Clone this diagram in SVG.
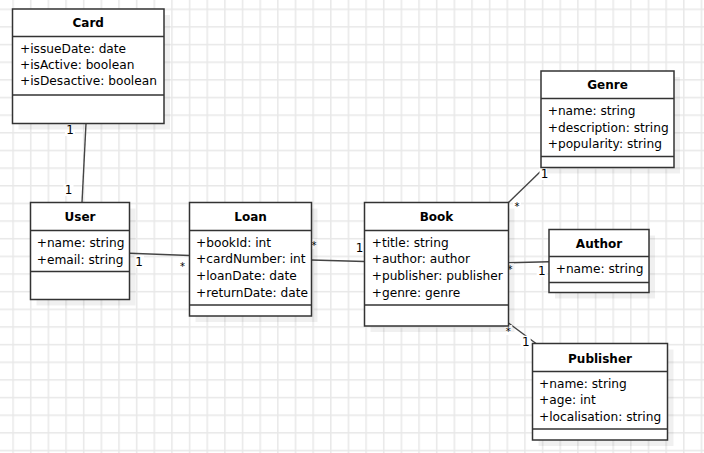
<svg xmlns="http://www.w3.org/2000/svg" width="704" height="453" viewBox="0 0 704 453">
<defs>
<pattern id="grid" x="12.3" y="8.5" width="17.65" height="17.65" patternUnits="userSpaceOnUse">
<path d="M0.8 0 V17.65 M0 0.8 H17.65" fill="none" stroke="#e8e8e8" stroke-width="1.5"/>
</pattern>
</defs>
<style>
.box{fill:#fff;stroke:#333;stroke-width:1.5}
.shadow{fill:#000;fill-opacity:0.06}
.sep{stroke:#333;stroke-width:1.5}
.title{font-family:"DejaVu Sans",sans-serif;font-size:12px;font-weight:bold;text-anchor:middle;fill:#000}
.attr{font-family:"DejaVu Sans",sans-serif;font-size:12.2px;fill:#000}
.conn line{stroke:#444;stroke-width:1.4}
.lbl{font-family:"DejaVu Sans",sans-serif;font-size:12px;fill:#000;text-anchor:middle}
.star{font-family:"DejaVu Sans",sans-serif;font-size:10px;fill:#000;text-anchor:middle}
.lb{fill:#fff}
</style>
<rect width="704" height="453" fill="#fff"/>
<rect width="704" height="453" fill="url(#grid)"/>

<g id="connectors" class="conn">
<line x1="86" y1="123.5" x2="82" y2="202.5"/>
<line x1="129.5" y1="253.3" x2="189.5" y2="255.5"/>
<line x1="311.5" y1="260" x2="364.5" y2="261.5"/>
<line x1="508.5" y1="202.5" x2="542" y2="170"/>
<line x1="508.5" y1="262.7" x2="549" y2="261.7"/>
<line x1="508.5" y1="323" x2="536" y2="343.5"/>
<g id="labels">
<rect class="lb" x="65" y="124" width="10" height="12"/><text class="lbl" x="70" y="134.4">1</text>
<rect class="lb" x="63.5" y="184" width="10" height="12"/><text class="lbl" x="68.5" y="194.4">1</text>
<rect class="lb" x="134" y="255.5" width="10" height="12"/><text class="lbl" x="139" y="265.9">1</text>
<rect class="lb" x="178.5" y="260" width="8" height="10"/><text class="star" x="182.5" y="270">*</text>
<rect class="lb" x="310" y="239" width="8" height="10"/><text class="star" x="314" y="249">*</text>
<rect class="lb" x="354.5" y="241.5" width="10" height="12"/><text class="lbl" x="359.5" y="251.9">1</text>
<rect class="lb" x="513" y="200" width="8" height="10"/><text class="star" x="517" y="210">*</text>
<rect class="lb" x="539.5" y="168" width="10" height="12"/><text class="lbl" x="544.5" y="178.4">1</text>
<rect class="lb" x="506" y="263.3" width="8" height="10"/><text class="star" x="510" y="273.3">*</text>
<rect class="lb" x="536.7" y="264.7" width="10" height="12"/><text class="lbl" x="541.7" y="275.1">1</text>
<rect class="lb" x="504.3" y="325" width="8" height="10"/><text class="star" x="508.3" y="335">*</text>
<rect class="lb" x="520.7" y="335.7" width="10" height="12"/><text class="lbl" x="525.7" y="346.1">1</text>
</g>
</g>

<g id="card">
<rect class="shadow" x="18.5" y="15" width="151.5" height="114.5"/>
<rect class="box" x="12.5" y="9" width="151.5" height="114.5"/>
<line class="sep" x1="12.5" y1="36.5" x2="164" y2="36.5"/>
<line class="sep" x1="12.5" y1="95" x2="164" y2="95"/>
<text class="title" x="88.25" y="27.3">Card</text>
<text class="attr" x="20" y="53.3">+issueDate: date</text>
<text class="attr" x="20" y="69.3">+isActive: boolean</text>
<text class="attr" x="20" y="85.3">+isDesactive: boolean</text>
</g>

<g id="user">
<rect class="shadow" x="36.5" y="208.5" width="99" height="97"/>
<rect class="box" x="30.5" y="202.5" width="99" height="97"/>
<line class="sep" x1="30.5" y1="230.5" x2="129.5" y2="230.5"/>
<line class="sep" x1="30.5" y1="271.5" x2="129.5" y2="271.5"/>
<text class="title" x="80" y="221">User</text>
<text class="attr" x="36.7" y="246.5">+name: string</text>
<text class="attr" x="36.7" y="264">+email: string</text>
</g>

<g id="loan">
<rect class="shadow" x="195.5" y="208.5" width="122" height="113.5"/>
<rect class="box" x="189.5" y="202.5" width="122" height="113.5"/>
<line class="sep" x1="189.5" y1="230.5" x2="311.5" y2="230.5"/>
<line class="sep" x1="189.5" y1="305" x2="311.5" y2="305"/>
<text class="title" x="250.5" y="221">Loan</text>
<text class="attr" x="196" y="246.5">+bookId: int</text>
<text class="attr" x="196" y="263.2">+cardNumber: int</text>
<text class="attr" x="196" y="279.9">+loanDate: date</text>
<text class="attr" x="196" y="296.6">+returnDate: date</text>
</g>

<g id="book">
<rect class="shadow" x="370.5" y="208.5" width="144" height="123.5"/>
<rect class="box" x="364.5" y="202.5" width="144" height="123.5"/>
<line class="sep" x1="364.5" y1="230.5" x2="508.5" y2="230.5"/>
<line class="sep" x1="364.5" y1="305" x2="508.5" y2="305"/>
<text class="title" x="436.5" y="221">Book</text>
<text class="attr" x="371.7" y="246.5">+title: string</text>
<text class="attr" x="371.7" y="263.2">+author: author</text>
<text class="attr" x="371.7" y="279.9">+publisher: publisher</text>
<text class="attr" x="371.7" y="296.6">+genre: genre</text>
</g>

<g id="author">
<rect class="shadow" x="555" y="235.5" width="100" height="63"/>
<rect class="box" x="549" y="229.5" width="100" height="63"/>
<line class="sep" x1="549" y1="256.5" x2="649" y2="256.5"/>
<line class="sep" x1="549" y1="282.5" x2="649" y2="282.5"/>
<text class="title" x="599" y="247.5">Author</text>
<text class="attr" x="555.7" y="273.3">+name: string</text>
</g>

<g id="genre">
<rect class="shadow" x="547" y="77" width="133" height="96.5"/>
<rect class="box" x="541" y="71" width="133" height="96.5"/>
<line class="sep" x1="541" y1="98.5" x2="674" y2="98.5"/>
<line class="sep" x1="541" y1="156.5" x2="674" y2="156.5"/>
<text class="title" x="607.5" y="89.3">Genre</text>
<text class="attr" x="547.7" y="115.3">+name: string</text>
<text class="attr" x="547.7" y="132">+description: string</text>
<text class="attr" x="547.7" y="147.7">+popularity: string</text>
</g>

<g id="publisher">
<rect class="shadow" x="538.5" y="349.5" width="135" height="96.5"/>
<rect class="box" x="532.5" y="343.5" width="135" height="96.5"/>
<line class="sep" x1="532.5" y1="371.5" x2="667.5" y2="371.5"/>
<line class="sep" x1="532.5" y1="429" x2="667.5" y2="429"/>
<text class="title" x="600" y="363.3">Publisher</text>
<text class="attr" x="539" y="387.6">+name: string</text>
<text class="attr" x="539" y="403.6">+age: int</text>
<text class="attr" x="539" y="420.8">+localisation: string</text>
</g>
</svg>
